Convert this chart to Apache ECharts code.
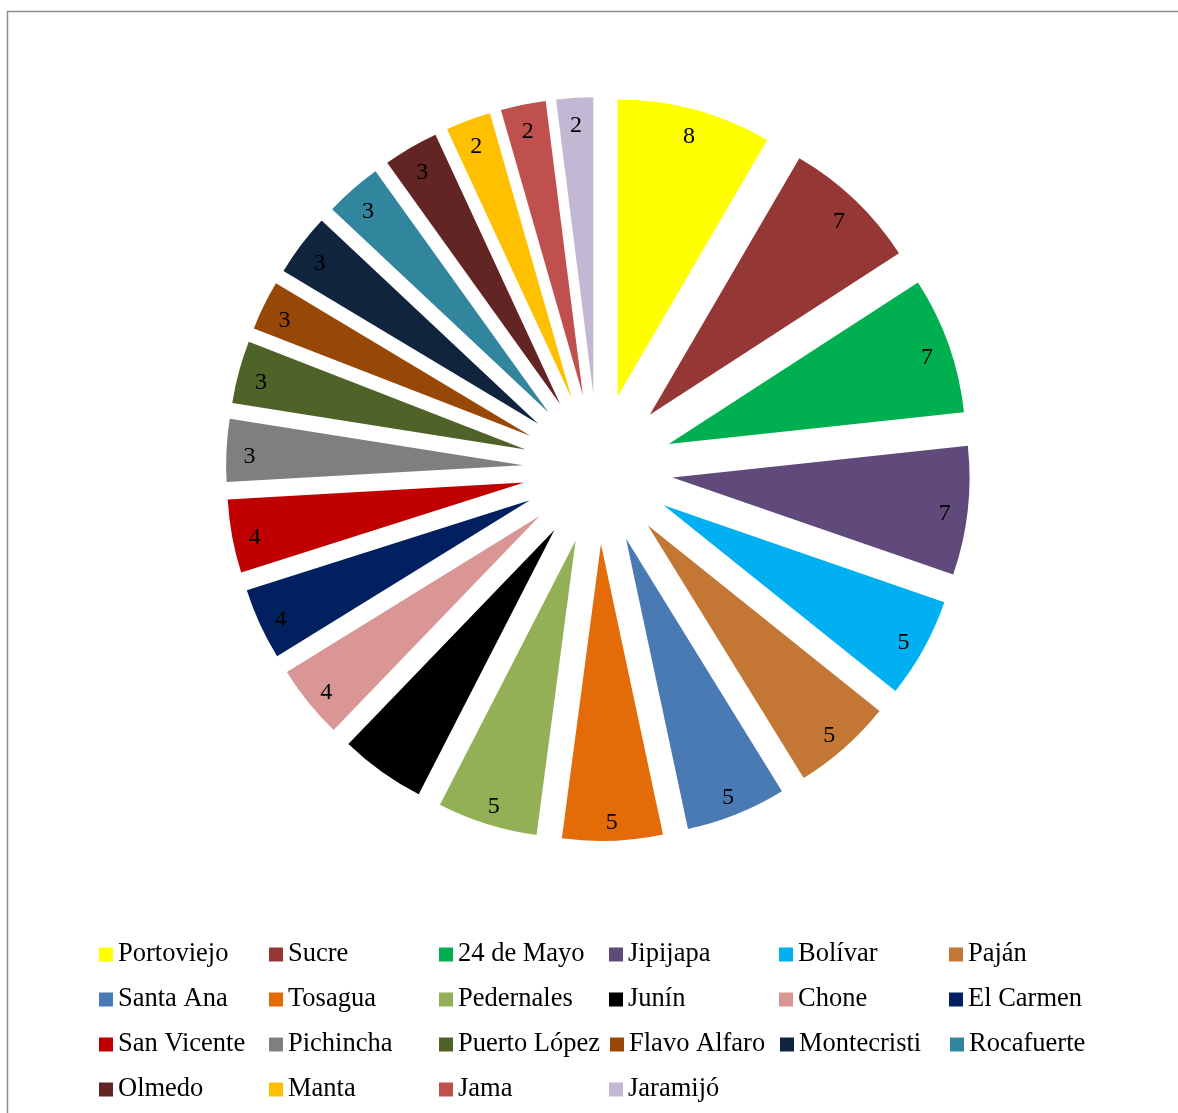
<!DOCTYPE html>
<html>
<head>
<meta charset="utf-8">
<script src="https://cdn.jsdelivr.net/npm/echarts@6/dist/echarts.min.js"></script>
<style>
html,body{margin:0;padding:0;background:#fff;}
#chart{width:1178px;height:1113px;}
</style>
</head>
<body>
<div id="chart"></div>
<script>
const categories = ['Portoviejo','Sucre','24 de Mayo','Jipijapa','Bolívar','Paján','Santa Ana','Tosagua','Pedernales','Junín','Chone','El Carmen','San Vicente','Pichincha','Puerto López','Flavo Alfaro','Montecristi','Rocafuerte','Olmedo','Manta','Jama','Jaramijó'];
// shares (%); labels show them rounded to whole numbers
const values = [8.4,7.45,7.45,7.0,5.45,5.45,5.45,5.45,5.45,4.65,4.0,3.9,4.0,3.4,3.4,2.7,3.4,3.1,3.0,2.45,2.45,2.0];
const colors = ['#FFFF00','#953735','#00B050','#604A7B','#00B0F0','#C47634','#4A7AB4','#E36C09','#93B056','#000000','#D99694','#002060','#C00000','#7F7F7F','#4F6228','#974806','#10243E','#31859C','#632523','#FFC000','#C0504D','#C3B8D3'];

const FONT = "'Liberation Serif','Times New Roman',serif";
const chart = echarts.init(document.getElementById('chart'), null, {renderer:'canvas'});

const sliceData = categories.map((n,i)=>({name:n, value:values[i], selected:true, itemStyle:{color:colors[i]}}));
const labelData = categories.map((n,i)=>({name:n, value:values[i], selected:true}));

const common = {
  type:'pie',
  center:[598,469],
  startAngle:90,
  clockwise:true,
  selectedMode:'multiple',
  selectedOffset:75,
  avoidLabelOverlap:false,
  animation:false,
  silent:true,
  labelLine:{show:false},
  emphasis:{disabled:true}
};

chart.setOption({
  backgroundColor:'#ffffff',
  animation:false,
  color: colors,
  graphic:[{
    type:'rect', silent:true,
    shape:{x:7.5, y:11.5, width:1300, height:1300},
    style:{fill:'none', stroke:'#8c8c8c', lineWidth:1.5}
  }],
  legend:{
    data: categories,
    orient:'horizontal',
    left:99, top:937, width:1015,
    padding:0,
    itemGap:10,
    itemWidth:14, itemHeight:14,
    icon:'rect',
    selectedMode:false,
    textStyle:{fontFamily:FONT, fontSize:26.5, color:'#000', width:141, lineHeight:35}
  },
  series:[
    Object.assign({}, common, {
      name:'slices',
      radius:[0,297],
      data:sliceData,
      label:{show:false}
    }),
    Object.assign({}, common, {
      name:'labels',
      radius:[245,297],
      data:labelData,
      itemStyle:{color:'rgba(0,0,0,0)'},
      label:{
        show:true, position:'inside',
        formatter:(p)=>'{s| }\n{v|' + Math.round(p.value) + '}',
        rich:{
          s:{fontSize:1, lineHeight:10, height:10},
          v:{fontFamily:FONT, fontSize:24, color:'#000', lineHeight:28}
        }
      }
    })
  ]
});
</script>
</body>
</html>
